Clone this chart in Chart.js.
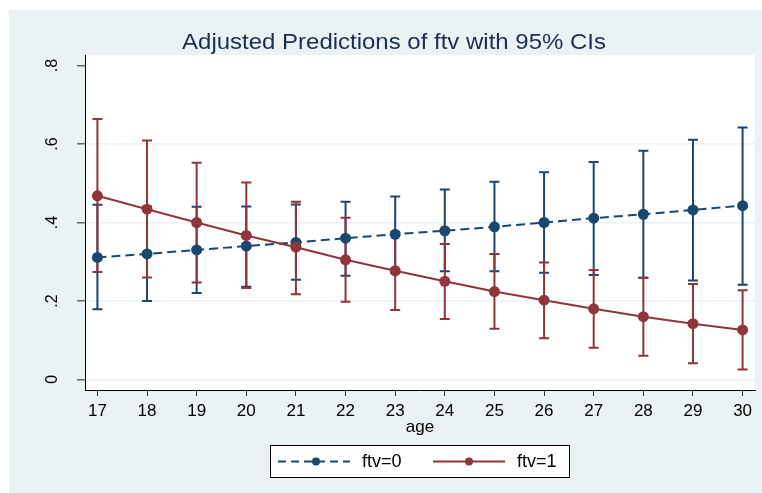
<!DOCTYPE html>
<html>
<head>
<meta charset="utf-8">
<title>Adjusted Predictions of ftv with 95% CIs</title>
<script src="https://cdn.jsdelivr.net/npm/chart.js@4.4.1/dist/chart.umd.min.js"></script>
<style>
  html, body { margin: 0; padding: 0; background: #fff; }
  canvas { display: block; }
</style>
</head>
<body>
<canvas id="marginsChart" width="762" height="493"></canvas>
<script>
// Data
const AGES = [17, 18, 19, 20, 21, 22, 23, 24, 25, 26, 27, 28, 29, 30];
const Y_TICKS = [0, 0.2, 0.4, 0.6, 0.8];
const Y_TICK_LABELS = ['0', '.2', '.4', '.6', '.8'];

const FTV0 = [0.311, 0.320, 0.330, 0.340, 0.349, 0.360, 0.370, 0.379, 0.389, 0.400, 0.411, 0.421, 0.432, 0.443];
const FTV0_LO = [0.179, 0.200, 0.220, 0.236, 0.254, 0.264, 0.272, 0.276, 0.276, 0.272, 0.266, 0.259, 0.252, 0.241];
const FTV0_HI = [0.445, 0.441, 0.440, 0.441, 0.446, 0.453, 0.466, 0.484, 0.504, 0.528, 0.554, 0.583, 0.611, 0.642];

const FTV1 = [0.468, 0.434, 0.400, 0.367, 0.337, 0.305, 0.277, 0.250, 0.224, 0.202, 0.180, 0.160, 0.142, 0.126];
const FTV1_LO = [0.274, 0.260, 0.247, 0.233, 0.217, 0.198, 0.177, 0.154, 0.129, 0.105, 0.081, 0.060, 0.041, 0.025];
const FTV1_HI = [0.664, 0.609, 0.552, 0.502, 0.453, 0.412, 0.376, 0.345, 0.320, 0.298, 0.279, 0.259, 0.243, 0.227];

const NAVY = '#1a476f';
const MAROON = '#90353b';
const GRAPH_BG = '#eaf2f3';
const FONT = "'Liberation Sans', Arial, sans-serif";

const toPoints = (ys) => AGES.map((x, i) => ({ x, y: ys[i] }));

// ── Backgrounds: white page, light graph region, white plot region ──
const backgroundPlugin = {
  id: 'stataBackground',
  beforeDraw(chart) {
    const { ctx, chartArea: a } = chart;
    ctx.save();
    ctx.fillStyle = '#fff';
    ctx.fillRect(0, 0, chart.width, chart.height);
    ctx.fillStyle = GRAPH_BG;
    ctx.fillRect(9, 10, chart.width - 9, chart.height - 10);
    ctx.fillStyle = '#fff';
    ctx.fillRect(a.left, a.top, a.right - a.left, a.bottom - a.top);
    ctx.restore();
  }
};

// ── Capped CI bars drawn beneath the lines ──
const ciPlugin = {
  id: 'ciBars',
  beforeDatasetsDraw(chart) {
    const { ctx, scales: { x, y } } = chart;
    const bands = [
      { lo: FTV0_LO, hi: FTV0_HI, color: NAVY },
      { lo: FTV1_LO, hi: FTV1_HI, color: MAROON }
    ];
    ctx.save();
    ctx.lineWidth = 2;
    bands.forEach(b => {
      ctx.strokeStyle = b.color;
      AGES.forEach((age, i) => {
        const px = x.getPixelForValue(age);
        const yLo = y.getPixelForValue(b.lo[i]);
        const yHi = y.getPixelForValue(b.hi[i]);
        ctx.beginPath();
        ctx.moveTo(px, yLo);
        ctx.lineTo(px, yHi);
        ctx.moveTo(px - 5, yLo);
        ctx.lineTo(px + 5, yLo);
        ctx.moveTo(px - 5, yHi);
        ctx.lineTo(px + 5, yHi);
        ctx.stroke();
      });
    });
    ctx.restore();
  }
};

// ── Title, rotated y labels, x title and boxed legend ──
const textPlugin = {
  id: 'stataText',
  afterDraw(chart) {
    const { ctx, chartArea: a, scales: { y } } = chart;
    const midX = (a.left + a.right) / 2;
    ctx.save();

    // title is a bit wider than the font alone gives
    ctx.save();
    ctx.translate(394, 49);
    ctx.scale(1.09, 1);
    ctx.fillStyle = '#1e2d53';
    ctx.font = `22px ${FONT}`;
    ctx.textAlign = 'center';
    ctx.textBaseline = 'alphabetic';
    ctx.fillText('Adjusted Predictions of ftv with 95% CIs', 0, 0);
    ctx.restore();

    ctx.fillStyle = '#000';
    ctx.font = `16px ${FONT}`;
    Y_TICKS.forEach((v, i) => {
      ctx.save();
      ctx.translate(57, y.getPixelForValue(v));
      ctx.rotate(-Math.PI / 2);
      ctx.textAlign = 'center';
      ctx.textBaseline = 'alphabetic';
      ctx.fillText(Y_TICK_LABELS[i], 0, 0);
      ctx.restore();
    });

    ctx.font = `17px ${FONT}`;
    ctx.textAlign = 'center';
    ctx.textBaseline = 'middle';
    ctx.fillText('age', midX, 427);

    // legend box
    const box = { x: 270.5, y: 445.5, w: 299, h: 32 };
    ctx.fillStyle = '#fff';
    ctx.fillRect(box.x, box.y, box.w, box.h);
    ctx.strokeStyle = '#000';
    ctx.lineWidth = 1;
    ctx.strokeRect(box.x, box.y, box.w, box.h);

    const ly = box.y + box.h / 2;
    const items = [
      { label: 'ftv=0', color: NAVY, dash: [8, 5], x0: 278, x1: 350, mx: 316, tx: 362 },
      { label: 'ftv=1', color: MAROON, dash: [], x0: 433, x1: 505, mx: 469, tx: 517 }
    ];
    items.forEach(it => {
      ctx.strokeStyle = it.color;
      ctx.lineWidth = 2;
      ctx.setLineDash(it.dash);
      ctx.beginPath();
      ctx.moveTo(it.x0, ly);
      ctx.lineTo(it.x1, ly);
      ctx.stroke();
      ctx.setLineDash([]);
      ctx.fillStyle = it.color;
      ctx.beginPath();
      ctx.arc(it.mx, ly, 4, 0, Math.PI * 2);
      ctx.fill();
      ctx.fillStyle = '#000';
      ctx.font = `18px ${FONT}`;
      ctx.textAlign = 'left';
      ctx.textBaseline = 'middle';
      ctx.fillText(it.label, it.tx, ly + 1);
    });

    ctx.restore();
  }
};

new Chart(document.getElementById('marginsChart'), {
  type: 'line',
  data: {
    datasets: [
      {
        label: 'ftv=0',
        data: toPoints(FTV0),
        borderColor: NAVY,
        backgroundColor: NAVY,
        borderWidth: 2,
        borderDash: [9, 5],
        pointRadius: 5.5,
        pointBorderWidth: 0,
        pointBackgroundColor: NAVY,
        tension: 0,
        order: 2
      },
      {
        label: 'ftv=1',
        data: toPoints(FTV1),
        borderColor: MAROON,
        backgroundColor: MAROON,
        borderWidth: 2,
        pointRadius: 5.5,
        pointBorderWidth: 0,
        pointBackgroundColor: MAROON,
        tension: 0,
        order: 1
      }
    ]
  },
  options: {
    responsive: false,
    animation: false,
    events: [],
    layout: { padding: { left: 0, top: 55, right: 7, bottom: 0 } },
    plugins: {
      legend: { display: false },
      title: { display: false },
      tooltip: { enabled: false }
    },
    scales: {
      x: {
        type: 'linear',
        min: 16.75,
        max: 30.25,
        afterBuildTicks: (s) => { s.ticks = AGES.map(v => ({ value: v })); },
        afterFit: (s) => { s.height = 103; },
        border: { display: true, color: '#000', width: 1 },
        grid: { drawOnChartArea: false, drawTicks: true, tickLength: 6, tickColor: '#333' },
        ticks: {
          color: '#000',
          font: { family: FONT, size: 17 },
          padding: 5,
          maxRotation: 0,
          autoSkip: false
        }
      },
      y: {
        type: 'linear',
        min: -0.027,
        max: 0.827,
        afterBuildTicks: (s) => { s.ticks = Y_TICKS.map(v => ({ value: v })); },
        afterFit: (s) => { s.width = 85; },
        border: { display: true, color: '#000', width: 1 },
        grid: {
          drawTicks: true,
          tickLength: 8,
          tickColor: '#666',
          lineWidth: 1.5,
          color: (c) => (c.tick && c.tick.value >= 0.8 ? 'rgba(0,0,0,0)' : GRAPH_BG)
        },
        ticks: { display: false }
      }
    }
  },
  plugins: [backgroundPlugin, ciPlugin, textPlugin]
});
</script>
</body>
</html>
